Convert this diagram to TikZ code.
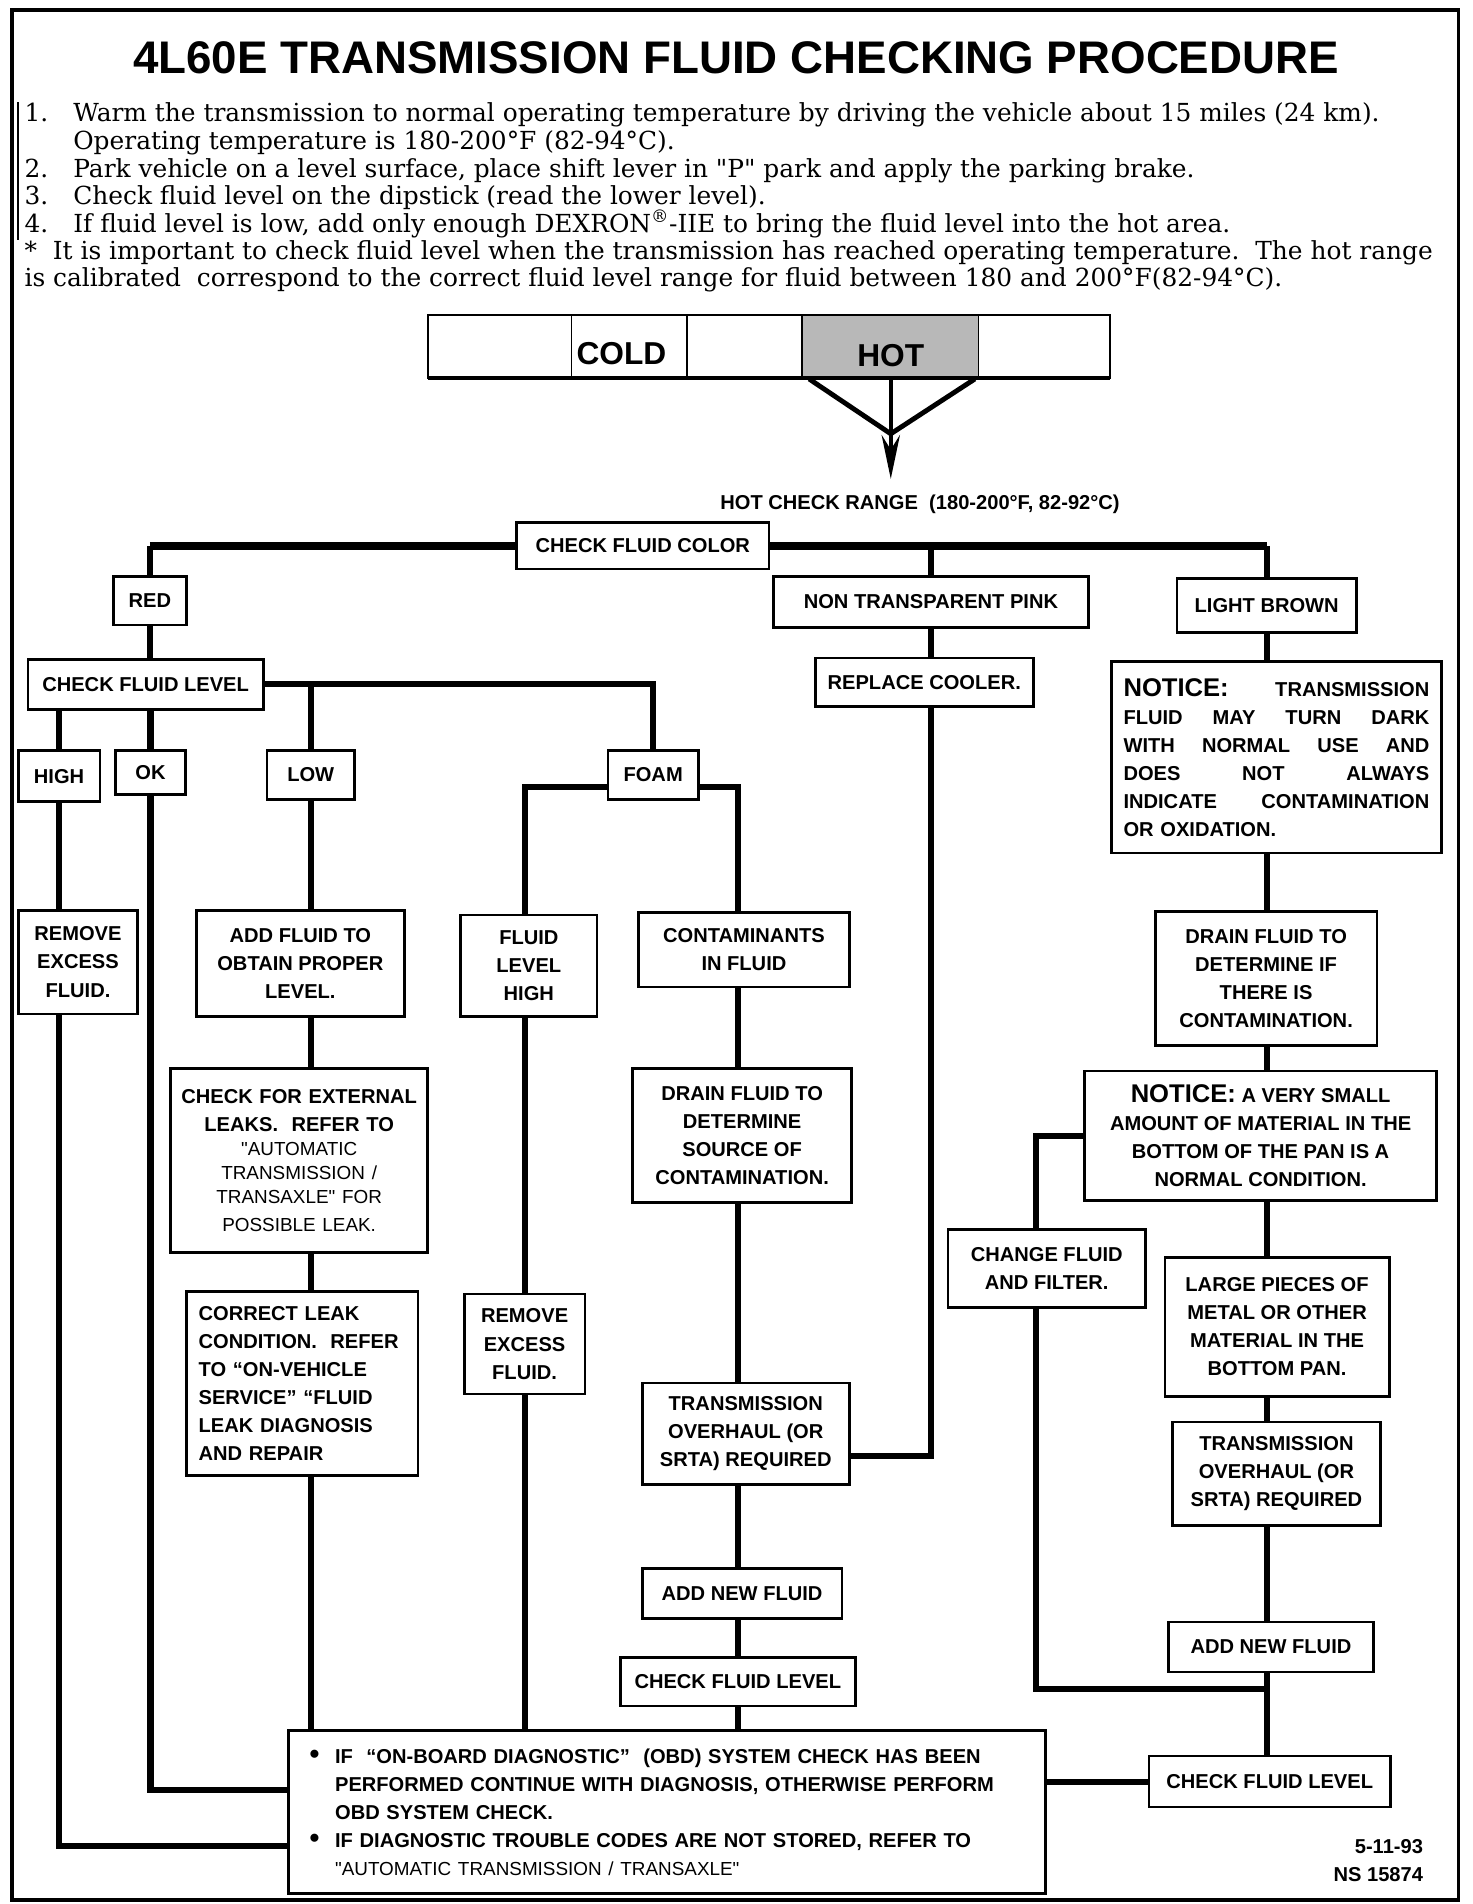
\documentclass[tikz,border=0pt]{standalone}
\usepackage{fontspec}
\usetikzlibrary{arrows.meta,backgrounds,calc}
\newfontfamily\boxfont{Liberation Sans}
\newfontfamily\stepfont{DejaVu Serif}
\newcommand{\boxtext}{\boxfont\bfseries\fontsize{16.5}{23}\selectfont}
\newcommand{\smalltext}{\boxfont\mdseries\fontsize{15.5}{19.5}\selectfont}
\newcommand{\noticeword}{{\fontsize{21}{23}\selectfont NOTICE:}}
\newcommand{\obdbullet}{\makebox[21pt][l]{\scalebox{1.4}{\textbullet}}}

\tikzset{
  box/.style={draw, line width=2.2pt, fill=white, inner sep=0pt, align=center, font=\boxtext},
  wh/.style 2 args={minimum width=#1pt, minimum height=#2pt},
  wire/.style={line width=5pt},
  bus/.style={line width=6.5pt},
  steptext/.style={anchor=base west, inner sep=0pt, font=\stepfont\fontsize{20.4}{22}\selectfont},
}

\begin{document}
\begin{tikzpicture}[x=1pt, y=-1pt]
      \useasboundingbox (0,0) rectangle (1208,1562.5);

      % Frame
      \draw[line width=3pt] (10,8) rectangle (1197,1559);

      % Title
      \node[anchor=base, inner sep=0pt, font=\boxfont\bfseries\fontsize{37.5}{40}\selectfont] (title) at (604,60)
        {4L60E TRANSMISSION FLUID CHECKING PROCEDURE};

      % Steps
      \draw[line width=1.5pt] (15,84) -- (15,197);
      \node[steptext] (n1) at (20,100) {1.};
      \node[steptext] (s1) at (60,100) {Warm the transmission to normal operating temperature by driving the vehicle about 15 miles (24 km).};
      \node[steptext] (s1b) at (60,123) {Operating temperature is 180-200°F (82-94°C).};
      \node[steptext] (n2) at (20,145.5) {2.};
      \node[steptext] (s2) at (60,145.5) {Park vehicle on a level surface, place shift lever in "P" park and apply the parking brake.};
      \node[steptext] (n3) at (20,168) {3.};
      \node[steptext] (s3) at (60,168) {Check fluid level on the dipstick (read the lower level).};
      \node[steptext] (n4) at (20,190.5) {4.};
      \node[steptext] (s4) at (60,190.5) {If fluid level is low, add only enough DEXRON\textsuperscript{®}-IIE to bring the fluid level into the hot area.};
      \node[steptext] (note) at (20,213) {*\ \ It is important to check fluid level when the transmission has reached operating temperature.\ \ The hot range};
      \node[steptext] (noteb) at (20,235.5) {is calibrated\ \ correspond to the correct fluid level range for fluid between 180 and 200°F(82-94°C).};

      % Dipstick scale
      \fill[black!28] (658.5,258.5) rectangle (803,310.5);
      \draw[line width=1.6pt] (351,258.5) rectangle (911,310.5);
      \draw[line width=3.5pt] (351,310.5) -- (911,310.5);
      \foreach \x in {469,563.5,658.5,803}
        \draw[line width=1.6pt] (\x,258.5) -- (\x,310.5);
      \node[anchor=base, inner sep=0pt, font=\boxfont\bfseries\fontsize{26}{26}\selectfont] (cold) at (510,299.5) {COLD};
      \node[anchor=base, inner sep=0pt, font=\boxfont\bfseries\fontsize{26}{26}\selectfont] (hot) at (731,301) {HOT};

      % Arrow
      \coordinate (tip) at (731,393);
      \draw[line width=4pt] (664,311) -- (731,356) -- (800,311);
      \draw[line width=3.5pt, -{Stealth[length=36pt,width=15pt,inset=12pt]}] (731,311) -- (tip);
      \node[anchor=base, inner sep=0pt, font=\boxfont\bfseries\fontsize{16.5}{18}\selectfont] (range) at (755,418.5)
        {HOT CHECK RANGE\ \ (180-200°F, 82-92°C)};

      % Colour
      \node[box, wh={207}{38}] (color) at (527.5,448) {CHECK FLUID COLOR};
      \node[box, wh={60}{40}] (red) at (123,493) {RED};
      \node[box, wh={258}{42}] (pink) at (764,494) {NON TRANSPARENT PINK};
      \node[box, wh={147}{44}] (brown) at (1039.5,497) {LIGHT BROWN};

      % Red branch
      \node[box, wh={193}{41}] (cfl1) at (119.5,561.5) {CHECK FLUID LEVEL};
      \node[box, wh={67}{42}] (high) at (48.5,637) {HIGH};
      \node[box, wh={57}{36}] (ok) at (123.5,634) {OK};
      \node[box, wh={72}{40}] (low) at (255,636) {LOW};
      \node[box, wh={74}{40}] (foam) at (536,636) {FOAM};
      \node[box, wh={98}{85}] (rem1) at (64,789.5) {REMOVE\\EXCESS\\FLUID.};
      \node[box, wh={171}{87}] (addfl) at (246.5,790.5) {ADD FLUID TO\\OBTAIN PROPER\\LEVEL.};
      \node[box, wh={211}{151}, text width=200pt] (leaks) at (245.5,952.5)
        {CHECK FOR EXTERNAL\\LEAKS.\ \ REFER TO\par
         \smalltext "AUTOMATIC\\TRANSMISSION /\\TRANSAXLE" FOR\\POSSIBLE LEAK.};
      \node[box, wh={190}{151}, text width=170pt, align=left] (correct) at (248,1135.5)
        {CORRECT LEAK\\CONDITION.\ \ REFER\\TO “ON-VEHICLE\\SERVICE” “FLUID\\LEAK DIAGNOSIS\\AND REPAIR};

      % Foam branch
      \node[box, wh={112}{83}] (flhigh) at (434,792.5) {FLUID\\LEVEL\\HIGH};
      \node[box, wh={99}{82}] (rem2) at (430.5,1103) {REMOVE\\EXCESS\\FLUID.};
      \node[box, wh={173}{61}] (contam) at (610.5,779.5) {CONTAMINANTS\\IN FLUID};
      \node[box, wh={180}{110}] (drainM) at (609,932) {DRAIN FLUID TO\\DETERMINE\\SOURCE OF\\CONTAMINATION.};
      \node[box, wh={170}{83}] (trM) at (612,1176.5) {TRANSMISSION\\OVERHAUL (OR\\SRTA) REQUIRED};
      \node[box, wh={164}{41}] (addM) at (609,1307.5) {ADD NEW FLUID};
      \node[box, wh={193}{40}] (cflM) at (605.5,1380) {CHECK FLUID LEVEL};

      % Pink branch
      \node[box, wh={179}{40}] (cooler) at (758.5,560) {REPLACE COOLER.};

      % Light brown branch
      \node[box, wh={271}{157}, text width=251pt, align=left] (notice1) at (1047.5,621.5)
        {\makebox[251pt]{\noticeword\hfill TRANSMISSION}\\
         \makebox[251pt]{FLUID\hfill MAY\hfill TURN\hfill DARK}\\
         \makebox[251pt]{WITH\hfill NORMAL\hfill USE\hfill AND}\\
         \makebox[251pt]{DOES\hfill NOT\hfill ALWAYS}\\
         \makebox[251pt]{INDICATE\hfill CONTAMINATION}\\
         OR OXIDATION.};
      \node[box, wh={182}{110}] (drainR) at (1039,803) {DRAIN FLUID TO\\DETERMINE IF\\THERE IS\\CONTAMINATION.};
      \node[box, wh={289}{106}] (notice2) at (1034.5,932)
        {\noticeword\ A VERY SMALL\\AMOUNT OF MATERIAL IN THE\\BOTTOM OF THE PAN IS A\\NORMAL CONDITION.};
      \node[box, wh={162}{64}] (change) at (859,1041) {CHANGE FLUID\\AND FILTER.};
      \node[box, wh={184}{114}] (large) at (1048,1089) {LARGE PIECES OF\\METAL OR OTHER\\MATERIAL IN THE\\BOTTOM PAN.};
      \node[box, wh={171}{85}] (trR) at (1047.5,1209.5) {TRANSMISSION\\OVERHAUL (OR\\SRTA) REQUIRED};
      \node[box, wh={168}{41}] (addR) at (1043,1351.5) {ADD NEW FLUID};
      \node[box, wh={198}{42}] (cflR) at (1042,1462) {CHECK FLUID LEVEL};

      % OBD note
      \node[box, wh={621}{134}, text width=587pt, align=left] (obd) at (547.5,1487)
        {\obdbullet IF\ \ “ON-BOARD DIAGNOSTIC”\ \ (OBD) SYSTEM CHECK HAS BEEN\\
         \hspace*{21pt}PERFORMED CONTINUE WITH DIAGNOSIS, OTHERWISE PERFORM\\
         \hspace*{21pt}OBD SYSTEM CHECK.\\
         \obdbullet IF DIAGNOSTIC TROUBLE CODES ARE NOT STORED, REFER TO\par
         \smalltext\hspace*{21pt}"AUTOMATIC TRANSMISSION / TRANSAXLE"};

      % Date
      \node[anchor=base east, inner sep=0pt, font=\boxtext] (date) at (1168,1521) {5-11-93};
      \node[anchor=base east, inner sep=0pt, font=\boxtext] (docno) at (1168,1544) {NS 15874};

      % Connectors
      \coordinate (obdA) at ($(obd.west)+(0,-18)$);
      \coordinate (obdB) at ($(obd.west)+(0,28)$);
      \coordinate (foamL) at ($(foam.west)+(0,10)$);
      \coordinate (foamR) at ($(foam.east)+(0,10)$);
      \coordinate (trMin) at ($(trM.east)+(0,18.5)$);
      \coordinate (chgx) at ($(change.center)+(-9,0)$);
      \coordinate (mergeR) at ($(addR.south)!0.19!(cflR.north)$);
      \begin{scope}[on background layer]
        \draw[bus] (red.north |- color.west) -- (brown.north |- color.east);
        \draw[wire] (red.north |- color.west) -- (red.south |- cfl1.north);
        \draw[wire] (pink.north |- color.east) |- (trMin);
        \draw[wire] (brown.north |- color.east) -- (brown.south |- cflR.north);
        \draw[wire] (cfl1.east) -| (foam.north);
        \draw[wire] (low.north |- cfl1.east) -- (low.north |- obd.north);
        \draw[wire] (high.north |- cfl1.south) |- (obdB);
        \draw[wire] (ok.north |- cfl1.south) |- (obdA);
        \draw[wire] (foamL) -| (rem2.north |- obd.north);
        \draw[wire] (foamR) -| (cflM.south |- obd.north);
        \draw[wire] (notice2.west) -| (chgx |- mergeR) -- (mergeR -| brown.south);
        \draw[wire] (obd.east |- cflR.west) -- (cflR.west);
      \end{scope}
    \end{tikzpicture}
\end{document}
